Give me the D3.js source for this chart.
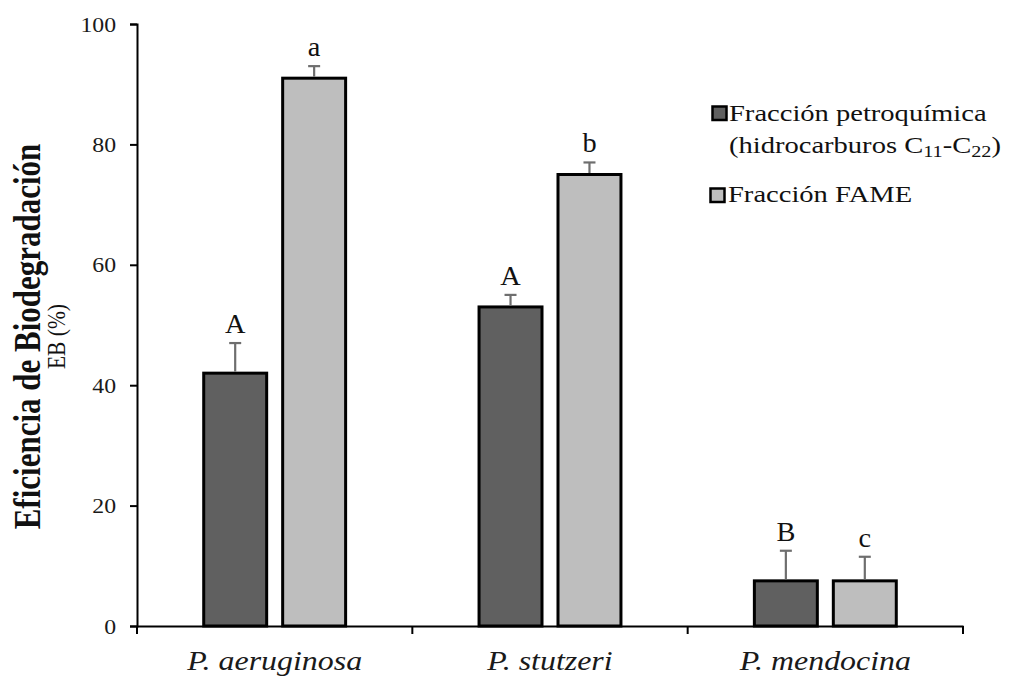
<!DOCTYPE html>
<html>
<head>
<meta charset="utf-8">
<script src="https://cdn.jsdelivr.net/npm/d3@7"></script>
<style>
  body { margin: 0; background: #fff; }
  svg { display: block; font-family: "Liberation Serif", "Times New Roman", serif; }
</style>
</head>
<body>
<div id="chart"></div>
<script>
const categories = ["P. aeruginosa", "P. stutzeri", "P. mendocina"];
const series = ["petro", "fame"];
const petroValues = [42, 53, 7.5];
const petroErrors = [5, 2, 5];
const petroLetters = ["A", "A", "B"];
const fameValues = [91, 75, 7.5];
const fameErrors = [2, 2, 4];
const fameLetters = ["a", "b", "c"];
const yTicks = [0, 20, 40, 60, 80, 100];

const colors = { petro: "#606060", fame: "#bebebe" };

const width = 1025, height = 677;
const margin = { top: 24, right: 62, bottom: 51, left: 137 };

const rows = [];
categories.forEach((c, i) => {
    rows.push({ cat: c, s: "petro", v: petroValues[i], e: petroErrors[i], l: petroLetters[i] });
    rows.push({ cat: c, s: "fame", v: fameValues[i], e: fameErrors[i], l: fameLetters[i] });
});

const svg = d3.select("#chart").append("svg")
    .attr("width", width)
    .attr("height", height);

const x0 = d3.scaleBand().domain(categories).range([margin.left, width - margin.right]).padding(0);
const x1 = d3.scaleBand().domain(series).range([0, x0.bandwidth()]).paddingInner(0.2025).paddingOuter(0.845);
const y = d3.scaleLinear().domain([0, 100]).range([height - margin.bottom, margin.top]);

const cx = d => x0(d.cat) + x1(d.s) + x1.bandwidth() / 2;

// bars
svg.append("g")
    .selectAll("rect")
    .data(rows)
    .join("rect")
    .attr("x", d => x0(d.cat) + x1(d.s))
    .attr("y", d => y(d.v))
    .attr("width", x1.bandwidth())
    .attr("height", d => y(0) - y(d.v))
    .attr("fill", d => colors[d.s])
    .attr("stroke", "#000")
    .attr("stroke-width", 3);

// error bars
const err = svg.append("g").attr("stroke", "#6e6e6e").attr("stroke-width", 2.2);
err.selectAll("line.v")
    .data(rows)
    .join("line")
    .attr("class", "v")
    .attr("x1", cx)
    .attr("x2", cx)
    .attr("y1", d => y(d.v) - 1.5)
    .attr("y2", d => y(d.v + d.e));
err.selectAll("line.cap")
    .data(rows)
    .join("line")
    .attr("class", "cap")
    .attr("x1", d => cx(d) - 6)
    .attr("x2", d => cx(d) + 6)
    .attr("y1", d => y(d.v + d.e))
    .attr("y2", d => y(d.v + d.e));

// significance letters
svg.append("g")
    .selectAll("text")
    .data(rows)
    .join("text")
    .attr("transform", d => `translate(${cx(d)},${y(d.v + d.e) - 10}) scale(1.05,1)`)
    .attr("text-anchor", "middle")
    .attr("font-size", 27)
    .attr("fill", "#111")
    .text(d => d.l);

// y axis
const yAxis = svg.append("g")
    .attr("transform", `translate(${margin.left},0)`)
    .call(d3.axisLeft(y).tickValues(yTicks).tickSize(7).tickSizeOuter(7).tickPadding(12.4));
yAxis.select(".domain").attr("stroke", "#000").attr("stroke-width", 2);
yAxis.selectAll(".tick line").attr("stroke", "#000").attr("stroke-width", 2);
yAxis.selectAll(".tick text")
    .attr("font-size", 22)
    .attr("font-family", "Liberation Serif, serif")
    .attr("fill", "#1a1a1a")
    .attr("transform", "scale(1.08,1)");

// x axis
const xAxis = svg.append("g")
    .attr("transform", `translate(0,${y(0)})`)
    .call(d3.axisBottom(x0).tickSize(0).tickSizeOuter(0).tickPadding(0));
xAxis.select(".domain").attr("stroke", "#000").attr("stroke-width", 2);
xAxis.selectAll(".tick text")
    .attr("y", 44)
    .attr("dy", 0)
    .attr("font-size", 28)
    .attr("font-style", "italic")
    .attr("font-family", "Liberation Serif, serif")
    .attr("fill", "#1a1a1a")
    .attr("transform", "scale(1.14,1)");

// category boundary ticks
const bounds = categories.map(c => x0(c)).concat([x0.range()[1]]);
svg.append("g")
    .selectAll("line")
    .data(bounds)
    .join("line")
    .attr("x1", d => d)
    .attr("x2", d => d)
    .attr("y1", y(0))
    .attr("y2", y(0) + 8)
    .attr("stroke", "#000")
    .attr("stroke-width", 2);

// y title
svg.append("text")
    .attr("transform", "translate(40,336.5) rotate(-90) scale(1,1.2)")
    .attr("text-anchor", "middle")
    .attr("font-size", 31)
    .attr("font-weight", "bold")
    .attr("fill", "#111")
    .text("Eficiencia de Biodegradación");
svg.append("text")
    .attr("transform", "translate(65,336.5) rotate(-90) scale(1,1.2)")
    .attr("text-anchor", "middle")
    .attr("font-size", 21.5)
    .attr("fill", "#111")
    .text("EB (%)");

// legend
const legend = svg.append("g").attr("font-size", 24).attr("fill", "#111");
legend.append("rect").attr("x", 712.5).attr("y", 106.5).attr("width", 14).attr("height", 13.5)
    .attr("fill", colors.petro).attr("stroke", "#000").attr("stroke-width", 2.5);
legend.append("text").attr("transform", "translate(729,121) scale(1.19,1)").text("Fracción petroquímica");
const l2 = legend.append("text").attr("transform", "translate(729,153) scale(1.19,1)");
l2.append("tspan").text("(hidrocarburos C");
l2.append("tspan").attr("font-size", 17).attr("dy", 4).text("11");
l2.append("tspan").attr("dy", -4).text("-C");
l2.append("tspan").attr("font-size", 17).attr("dy", 4).text("22");
l2.append("tspan").attr("dy", -4).text(")");
legend.append("rect").attr("x", 710.5).attr("y", 188.5).attr("width", 14).attr("height", 13.5)
    .attr("fill", colors.fame).attr("stroke", "#000").attr("stroke-width", 2.5);
legend.append("text").attr("transform", "translate(728,202) scale(1.19,1)").text("Fracción FAME");
</script>
</body>
</html>
